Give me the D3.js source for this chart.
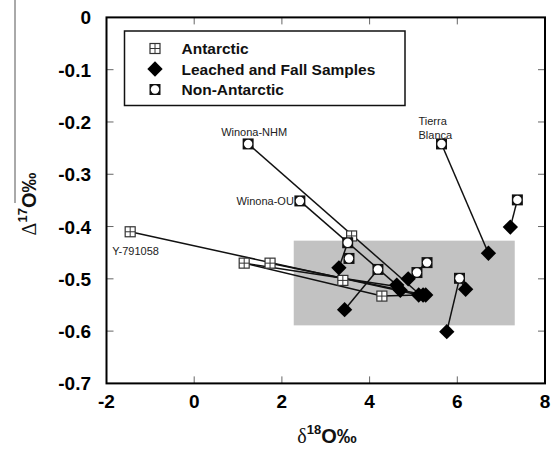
<!DOCTYPE html>
<head>
  <meta charset="UTF-8" />
  <script src="https://d3js.org/d3.v7.min.js"></script>
  <style>
    body { margin: 0; background: #fff; }
    text { font-family: "Liberation Sans", Arial, sans-serif; }
  </style>
</head>
<body>
<script>
  // axis ticks
  var xTicks = [-2, 0, 2, 4, 6, 8];
  var yTicks = [0, -0.1, -0.2, -0.3, -0.4, -0.5, -0.6, -0.7];

  // grey field: [x0, x1, y0, y1]
  var boxRange = [2.27, 7.31, -0.427, -0.589];

  // Antarctic samples (d18O, D17O)
  var antarctic = [
    [-1.46, -0.41], [1.14, -0.47], [1.73, -0.47], [3.59, -0.418],
    [3.39, -0.503], [4.28, -0.533]
  ];
  // Non-Antarctic samples
  var nonAntarctic = [
    [1.23, -0.242], [2.41, -0.351], [5.64, -0.242], [7.37, -0.349],
    [3.50, -0.431], [3.53, -0.461], [4.19, -0.482], [5.08, -0.488],
    [5.31, -0.469], [6.05, -0.499]
  ];
  // Leached and fall samples
  var leached = [
    [3.30, -0.479], [3.43, -0.559], [4.62, -0.512], [4.70, -0.522],
    [4.88, -0.50], [5.12, -0.531], [5.22, -0.531], [5.28, -0.531],
    [5.76, -0.601], [6.19, -0.52], [6.71, -0.451], [7.21, -0.401]
  ];
  // tie lines: [x1, y1, x2, y2]
  var ties = [
    [-1.46, -0.41, 5.12, -0.531],
    [1.14, -0.47, 4.66, -0.515],
    [1.73, -0.47, 5.26, -0.531],
    [1.14, -0.47, 4.28, -0.533],
    [4.28, -0.533, 5.12, -0.531],
    [1.23, -0.242, 5.12, -0.528],
    [2.41, -0.351, 4.66, -0.515],
    [3.50, -0.431, 3.30, -0.479],
    [4.19, -0.482, 3.43, -0.559],
    [5.31, -0.469, 4.88, -0.50],
    [5.64, -0.242, 6.71, -0.451],
    [7.37, -0.349, 7.21, -0.401],
    [6.05, -0.499, 5.76, -0.601],
    [6.05, -0.499, 6.19, -0.52]
  ];
  // sample names
  var labels = [
    { name: "Winona-NHM", x: 1.23, y: -0.242 },
    { name: "Winona-OU", x: 2.41, y: -0.351 },
    { name: "Y-791058", x: -1.46, y: -0.41 },
    { name: "Tierra", x: 5.64, y: -0.242 },
    { name: "Blanca", x: 5.64, y: -0.242 }
  ];
  var legendNames = ["Antarctic", "Leached and Fall Samples", "Non-Antarctic"];

  var width = 556, height = 449;
  var svg = d3.select("body").append("svg")
    .attr("width", width).attr("height", height);

  var x = d3.scaleLinear().domain([-2, 8]).range([106.5, 545]);
  var y = d3.scaleLinear().domain([-0.7, 0]).range([383.4, 17.4]);

  // stray crop line at far left
  svg.append("line").attr("x1", 15).attr("x2", 15).attr("y1", 0).attr("y2", 203)
    .attr("stroke", "#555").attr("stroke-width", 1);

  // grey field
  svg.append("rect")
    .attr("x", x(boxRange[0])).attr("y", y(boxRange[2]))
    .attr("width", x(boxRange[1]) - x(boxRange[0]))
    .attr("height", y(boxRange[3]) - y(boxRange[2]))
    .attr("fill", "#c2c2c2");

  // ticks on all sides (inward)
  var g = svg.append("g").attr("stroke", "#666").attr("stroke-width", 1);
  xTicks.slice(1, -1).forEach(function (t) {
    g.append("line").attr("x1", x(t)).attr("x2", x(t)).attr("y1", y(-0.7)).attr("y2", y(-0.7) - 7);
    g.append("line").attr("x1", x(t)).attr("x2", x(t)).attr("y1", y(0)).attr("y2", y(0) + 7);
  });
  yTicks.slice(1, -1).forEach(function (t) {
    g.append("line").attr("x1", x(-2)).attr("x2", x(-2) + 7).attr("y1", y(t)).attr("y2", y(t));
    g.append("line").attr("x1", x(8)).attr("x2", x(8) - 7).attr("y1", y(t)).attr("y2", y(t));
  });

  // tie lines
  svg.append("g").selectAll("line").data(ties).enter().append("line")
    .attr("x1", function (d) { return x(d[0]); })
    .attr("y1", function (d) { return y(d[1]); })
    .attr("x2", function (d) { return x(d[2]); })
    .attr("y2", function (d) { return y(d[3]); })
    .attr("stroke", "#111").attr("stroke-width", 1.5);

  function antMarker(sel, cx, cy) {
    var s = 5;
    sel.append("rect").attr("x", cx - s).attr("y", cy - s).attr("width", 2 * s).attr("height", 2 * s)
      .attr("fill", "#fff").attr("stroke", "#333").attr("stroke-width", 1.2);
    sel.append("line").attr("x1", cx - s).attr("x2", cx + s).attr("y1", cy).attr("y2", cy)
      .attr("stroke", "#333").attr("stroke-width", 1);
    sel.append("line").attr("x1", cx).attr("x2", cx).attr("y1", cy - s).attr("y2", cy + s)
      .attr("stroke", "#333").attr("stroke-width", 1);
  }
  function nonMarker(sel, cx, cy) {
    var s = 5.5;
    sel.append("rect").attr("x", cx - s).attr("y", cy - s).attr("width", 2 * s).attr("height", 2 * s)
      .attr("fill", "#111");
    sel.append("circle").attr("cx", cx).attr("cy", cy).attr("r", 4.2).attr("fill", "#fff");
  }
  var diamond = d3.symbol().type(d3.symbolDiamond2).size(150);
  function leachMarker(sel, cx, cy) {
    sel.append("path").attr("d", diamond).attr("transform", "translate(" + cx + "," + cy + ")")
      .attr("fill", "#000");
  }

  var marks = svg.append("g");
  antarctic.forEach(function (d) { antMarker(marks, x(d[0]), y(d[1])); });
  nonAntarctic.forEach(function (d) { nonMarker(marks, x(d[0]), y(d[1])); });
  leached.forEach(function (d) { leachMarker(marks, x(d[0]), y(d[1])); });

  // sample labels
  var lab = svg.append("g").attr("font-size", 11).attr("fill", "#222");
  lab.append("text").attr("x", x(labels[0].x) + 6).attr("y", y(labels[0].y) - 8)
    .attr("text-anchor", "middle").text(labels[0].name);
  lab.append("text").attr("x", x(labels[1].x) - 6).attr("y", y(labels[1].y) + 4)
    .attr("text-anchor", "end").text(labels[1].name);
  lab.append("text").attr("x", x(labels[2].x) - 18).attr("y", y(labels[2].y) + 23)
    .text(labels[2].name);
  lab.append("text").attr("x", x(labels[3].x) - 23).attr("y", y(labels[3].y) - 19)
    .text(labels[3].name);
  lab.append("text").attr("x", x(labels[4].x) - 23).attr("y", y(labels[4].y) - 5)
    .text(labels[4].name);

  // frame
  svg.append("rect").attr("x", x(-2)).attr("y", y(0))
    .attr("width", x(8) - x(-2)).attr("height", y(-0.7) - y(0))
    .attr("fill", "none").attr("stroke", "#000").attr("stroke-width", 2);

  // tick labels
  svg.append("g").selectAll("text").data(yTicks).enter().append("text")
    .attr("x", 91).attr("y", function (d) { return y(d) + 7; })
    .attr("text-anchor", "end").attr("font-size", 19).attr("font-weight", "bold")
    .text(function (d) { return d === 0 ? "0" : d.toFixed(1); });
  svg.append("g").selectAll("text").data(xTicks).enter().append("text")
    .attr("x", function (d) { return x(d); }).attr("y", 408)
    .attr("text-anchor", "middle").attr("font-size", 19).attr("font-weight", "bold")
    .text(function (d) { return String(d); });

  // axis titles
  var xt = svg.append("text").attr("x", 327).attr("y", 443).attr("text-anchor", "middle")
    .attr("font-size", 20).attr("fill", "#111");
  xt.append("tspan").attr("font-family", "Liberation Serif, serif").text("δ");
  xt.append("tspan").attr("font-size", 13).attr("font-weight", "bold").attr("dy", -9).text("18");
  xt.append("tspan").attr("font-weight", "bold").attr("dy", 9).text("O‰");

  var yt = svg.append("text").attr("transform", "translate(36,204) rotate(-90)")
    .attr("text-anchor", "middle").attr("font-size", 20).attr("fill", "#111");
  yt.append("tspan").attr("font-family", "Liberation Serif, serif").text("Δ");
  yt.append("tspan").attr("font-size", 13).attr("font-weight", "bold").attr("dy", -9).text("17");
  yt.append("tspan").attr("font-weight", "bold").attr("dy", 9).text("O‰");

  // legend
  var leg = svg.append("g");
  leg.append("rect").attr("x", 124.5).attr("y", 31).attr("width", 280.5).attr("height", 74.5)
    .attr("fill", "#fff").attr("stroke", "#111").attr("stroke-width", 1.5);
  var rowY = [48.5, 69, 89.5];
  antMarker(leg, 155, rowY[0]);
  leachMarker(leg, 155, rowY[1]);
  nonMarker(leg, 155, rowY[2]);
  leg.selectAll("text.lg").data(legendNames).enter().append("text")
    .attr("x", 181.5).attr("y", function (d, i) { return rowY[i] + 5.5; })
    .attr("font-size", 15.5).attr("font-weight", "bold").attr("fill", "#111")
    .text(function (d) { return d; });
</script>
</body>
